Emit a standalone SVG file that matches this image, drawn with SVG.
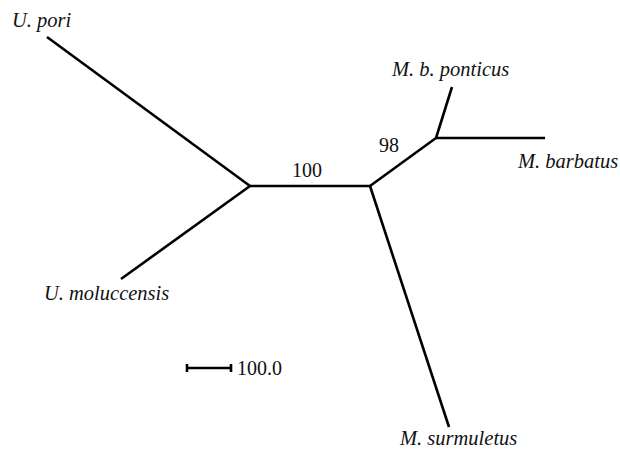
<svg xmlns="http://www.w3.org/2000/svg" width="620" height="450" viewBox="0 0 620 450">
<style>
.br{stroke:#000;stroke-width:2.6;fill:none;stroke-linecap:butt}
.lab{font-family:"Liberation Serif",serif;font-style:italic;font-size:20.5px;fill:#111}
.num{font-family:"Liberation Serif",serif;font-size:20px;fill:#111}
</style>
<rect width="620" height="450" fill="#fff"/>
<g id="connectors">
<line class="br" x1="47" y1="37" x2="250" y2="186"/>
<line class="br" x1="121" y1="279" x2="250" y2="186"/>
<line class="br" x1="250" y1="186" x2="370" y2="186"/>
<line class="br" x1="370" y1="186" x2="436" y2="138"/>
<line class="br" x1="436" y1="138" x2="452" y2="87"/>
<line class="br" x1="436" y1="138" x2="545" y2="138"/>
<line class="br" x1="370" y1="186" x2="449" y2="427"/>
</g>
<g id="U_pori"><text class="lab" x="12" y="27">U. pori</text></g>
<g id="U_moluccensis"><text class="lab" x="44" y="300">U. moluccensis</text></g>
<g id="M_b_ponticus"><text class="lab" x="392" y="76">M. b. ponticus</text></g>
<g id="M_barbatus"><text class="lab" x="518" y="168">M. barbatus</text></g>
<g id="M_surmuletus"><text class="lab" x="400" y="445">M. surmuletus</text></g>
<g id="support100"><text class="num" x="292" y="177">100</text></g>
<g id="support98"><text class="num" x="379" y="152">98</text></g>
<g id="scale">
<line class="br" x1="186" y1="368" x2="232" y2="368"/>
<line class="br" x1="187" y1="364" x2="187" y2="372"/>
<line class="br" x1="231" y1="364" x2="231" y2="372"/>
<text class="num" x="237" y="375">100.0</text>
</g>
</svg>
